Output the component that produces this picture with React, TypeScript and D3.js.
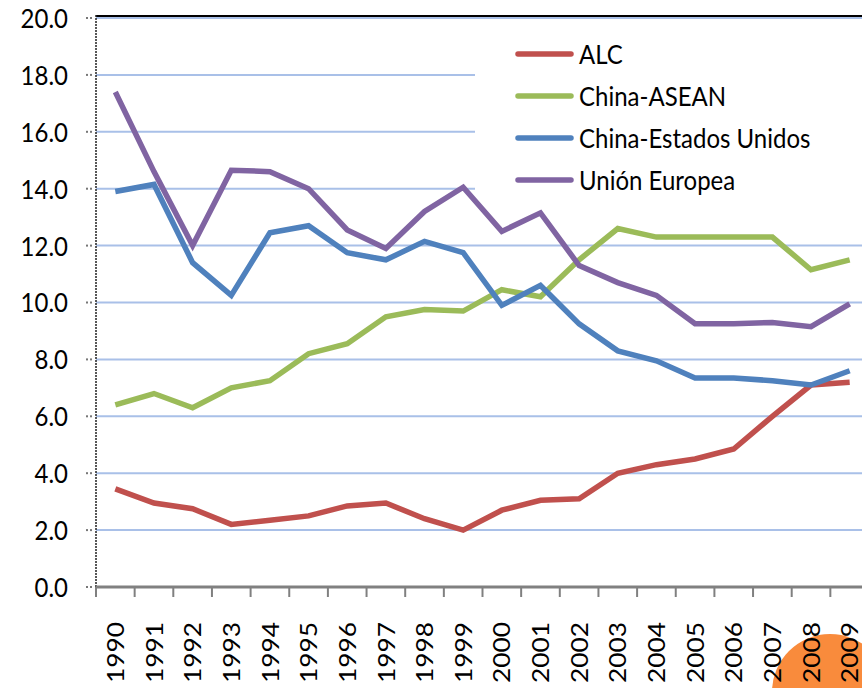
import * as d3 from 'd3';

const years = ['1990', '1991', '1992', '1993', '1994', '1995', '1996', '1997', '1998', '1999',
  '2000', '2001', '2002', '2003', '2004', '2005', '2006', '2007', '2008', '2009'];

const alc = [3.45, 2.95, 2.75, 2.2, 2.35, 2.5, 2.85, 2.95, 2.4, 2.0, 2.7, 3.05, 3.1, 4.0, 4.3, 4.5, 4.85, 6.0, 7.1, 7.2];
const chinaAsean = [6.4, 6.8, 6.3, 7.0, 7.25, 8.2, 8.55, 9.5, 9.75, 9.7, 10.45, 10.2, 11.5, 12.6, 12.3, 12.3, 12.3, 12.3, 11.15, 11.5];
const chinaEEUU = [13.9, 14.15, 11.4, 10.25, 12.45, 12.7, 11.75, 11.5, 12.15, 11.75, 9.9, 10.6, 9.25, 8.3, 7.95, 7.35, 7.35, 7.25, 7.1, 7.6];
const unionEuropea = [17.4, 14.6, 12.0, 14.65, 14.6, 14.0, 12.55, 11.9, 13.2, 14.05, 12.5, 13.15, 11.3, 10.7, 10.25, 9.25, 9.25, 9.3, 9.15, 9.95];

const seriesNames = ['ALC', 'China-ASEAN', 'China-Estados Unidos', 'Unión Europea'];
const seriesColors = ['#c0504d', '#9bbb59', '#4f81bd', '#8064a2'];
const seriesValues = [alc, chinaAsean, chinaEEUU, unionEuropea];

const yTicks = [0, 2, 4, 6, 8, 10, 12, 14, 16, 18, 20];

const W = 862;
const H = 688;
const left = 96;
const top = 18;
const bottom = 587;
const right = 869;
const font = 'Lato, "Open Sans", sans-serif';
const stretch = 1.15; // text in the original looks stretched vertically

export default function App() {
  const x = d3.scaleBand().domain(years).range([left, right]);
  const y = d3.scaleLinear().domain([0, 20]).range([bottom, top]);
  const cx = (i: number) => (x(years[i]) as number) + x.bandwidth() / 2;

  const line = d3
    .line<number>()
    .x((_, i) => cx(i))
    .y(d => y(d));

  const legendX = 516;
  const legendY0 = 54;
  const legendStep = 42;

  return (
    <svg
      width={W}
      height={H}
      style={{ position: 'absolute', left: 0, top: 0, display: 'block', background: '#fff' }}
    >
      {/* gridlines */}
      <g stroke="#a9c0e8" strokeWidth={2}>
        {yTicks.filter(t => t > 0).map(t => (
          <line key={t} x1={left} x2={W} y1={y(t)} y2={y(t)} />
        ))}
      </g>

      {/* legend box hides gridlines behind it */}
      <rect x={475} y={26} width={W - 475} height={175} fill="#fff" />

      {/* top border */}
      <line x1={left} x2={W} y1={y(20) - 2} y2={y(20) - 2} stroke="#000" strokeWidth={2} />

      {/* left axis */}
      <line x1={left} x2={left} y1={y(20) - 3} y2={bottom} stroke="#222" strokeWidth={1.5} strokeDasharray="2,1" />
      <g fill="#777">
        {yTicks.map(t => (
          <g key={t}>
            <rect x={86} y={y(t) - 1} width={2} height={2} />
            <rect x={90} y={y(t) - 1} width={2} height={2} />
          </g>
        ))}
      </g>
      <g fontFamily={font} fontSize={24} fill="#000" textAnchor="end">
        {yTicks.map(t => (
          <text key={t} transform={`translate(68,${y(t)}) scale(1,${stretch})`} dy="0.36em">
            {d3.format('.1f')(t)}
          </text>
        ))}
      </g>

      {/* orange blob behind the last labels */}
      <circle cx={830} cy={692} r={58} fill="#f98b3c" />

      {/* bottom axis */}
      <line x1={left} x2={W} y1={bottom} y2={bottom} stroke="#808080" strokeWidth={3} />
      <g stroke="#808080" strokeWidth={2}>
        {years.map(yr => (
          <line key={yr} x1={x(yr) as number} x2={x(yr) as number} y1={bottom} y2={bottom + 10} />
        ))}
        <line x1={right} x2={right} y1={bottom} y2={bottom + 10} />
      </g>
      <g fontFamily={font} fontSize={24} fill="#000">
        {years.map((yr, i) => (
          <text
            key={yr}
            transform={`translate(${Math.min(cx(i), 851)},683) rotate(-90)`}
            dy="0.36em"
            textLength={61}
            lengthAdjust="spacingAndGlyphs"
          >
            {yr}
          </text>
        ))}
      </g>

      {/* series */}
      {seriesValues.map((vals, k) => (
        <path
          key={seriesNames[k]}
          d={line(vals) as string}
          fill="none"
          stroke={seriesColors[k]}
          strokeWidth={5.5}
          strokeLinejoin="miter"
        />
      ))}

      {/* legend */}
      <g fontFamily={font} fontSize={24} fill="#000">
        {seriesNames.map((name, k) => (
          <g key={name} transform={`translate(${legendX},${legendY0 + k * legendStep})`}>
            <line x1={2} x2={55} y1={0} y2={0} stroke={seriesColors[k]} strokeWidth={5.5} strokeLinecap="round" />
            <text transform={`translate(63,0) scale(1,${stretch})`} dy="0.36em">
              {name}
            </text>
          </g>
        ))}
      </g>
    </svg>
  );
}
